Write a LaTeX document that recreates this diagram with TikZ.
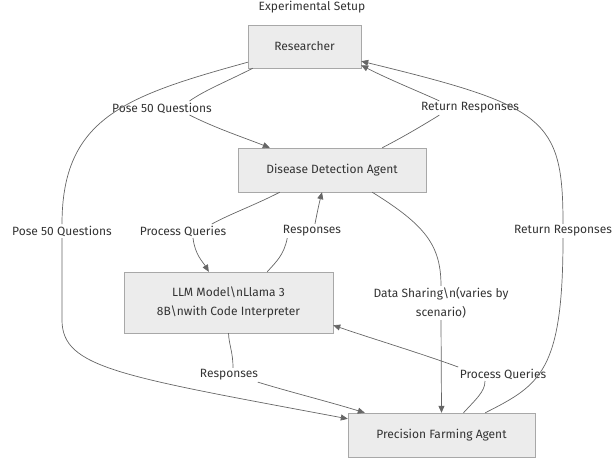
\documentclass[tikz,border=0pt]{standalone}
\usepackage{fontspec}
\setmainfont{Fira Sans}
\usetikzlibrary{arrows.meta}
\definecolor{boxfill}{HTML}{ECECEC}
\definecolor{boxline}{HTML}{A8A8A8}
\definecolor{wire}{HTML}{666666}
\definecolor{ink}{HTML}{333333}
\tikzset{
  box/.style={
    rectangle,
    inner sep=0pt,
    align=center,
    draw=boxline,
    fill=boxfill,
    text=ink,
    font=\fontsize{12}{19}\selectfont
  },
  lbl/.style={
    inner sep=1.5pt,
    align=center,
    text=ink,
    font=\fontsize{12}{19}\selectfont
  },
  link/.style={draw=wire, line width=0.7pt},
  arrow/.style={link, -{Triangle[length=7pt,width=6pt]}}
}
\begin{document}
\begin{tikzpicture}[x=1pt, y=-1pt]
  \useasboundingbox (0,0) rectangle (612,463);
  \node[lbl] (title) at (312,7) {Experimental Setup};
  % boxes
  \node (res) [box, minimum width=113pt, minimum height=43pt] at (304.5,46.5) {Researcher};
  \node (dda) [box, minimum width=188pt, minimum height=44pt] at (332,170) {Disease Detection Agent};
  \node (llm) [box, minimum width=209pt, minimum height=61pt] at (228.5,302.5)
    {LLM Model\textbackslash nLlama 3\\8B\textbackslash nwith Code Interpreter};
  \node (pfa) [box, minimum width=187pt, minimum height=44pt] at (441.5,435) {Precision Farming Agent};
  % edge labels
  \node (l1) [lbl] at (162,108) {Pose 50 Questions};
  \node (l2) [lbl] at (62,231) {Pose 50 Questions};
  \node (l3) [lbl] at (470,108) {Return Responses};
  \node (l4) [lbl] at (563,231) {Return Responses};
  \node (l5) [lbl] at (183,231) {Process Queries};
  \node (l6) [lbl] at (312,231) {Responses};
  \node (l7) [lbl] at (441,303) {Data Sharing\textbackslash n(varies by\\scenario)};
  \node (l8) [lbl] at (229,375) {Responses};
  \node (l9) [lbl] at (503,374) {Process Queries};
  % Researcher -> Disease Detection Agent
  \draw[link] ([xshift=5pt]res.south west) .. controls (228,81) and (205,90) .. ([xshift=-24pt]l1.north east);
  \draw[arrow] ([xshift=-24pt]l1.south east) .. controls (215,128) and (245,138) .. ([xshift=32pt]dda.north west);
  % Researcher -> Precision Farming Agent
  \draw[link] ([yshift=6pt]res.south west) .. controls (125,96) and (62,118) .. (l2.north);
  \draw[arrow] (l2.south) -- (62,320) .. controls (62,368) and (120,376) .. ([yshift=-6pt]pfa.north west);
  % Disease Detection Agent -> Researcher
  \draw[link] ([xshift=-44pt]dda.north east) .. controls (405,136) and (425,124) .. ([xshift=20pt]l3.south west);
  \draw[arrow] ([xshift=20pt]l3.north west) .. controls (420,92) and (390,80) .. ([yshift=3pt]res.south east);
  % Precision Farming Agent -> Researcher
  \draw[link] ([xshift=-50pt]pfa.north east) .. controls (540,385) and (563,372) .. (l4.south);
  \draw[arrow] (l4.north) .. controls (563,118) and (545,106) .. ([yshift=7pt]res.south east);
  % Disease Detection Agent -> LLM Model
  \draw[link] ([xshift=42pt]dda.south west) .. controls (255,205) and (230,214) .. ([xshift=-16pt]l5.north east);
  \draw[arrow] ([xshift=10pt]l5.south) .. controls (195,255) and (203,262) .. ([xshift=85pt]llm.north west);
  % LLM Model -> Disease Detection Agent
  \draw[link] ([xshift=-66pt]llm.north east) .. controls (276,262) and (284,255) .. ([xshift=6pt]l6.south west);
  \draw[arrow] ([xshift=3pt]l6.north) .. controls (318,208) and (320,200) .. ([xshift=-10pt]dda.south);
  % Disease Detection Agent -> Precision Farming Agent
  \draw[link] ([xshift=-54pt]dda.south east) .. controls (425,225) and (441,245) .. (l7.north);
  \draw[arrow] (l7.south) -- (pfa.north);
  % LLM Model -> Precision Farming Agent
  \draw[link] (llm.south) .. controls (229,345) and (233,352) .. ([xshift=4pt]l8.north);
  \draw[arrow] ([xshift=-2pt]l8.south east) .. controls (290,392) and (330,402) .. ([xshift=17pt]pfa.north west);
  % Precision Farming Agent -> LLM Model
  \draw[link] ([xshift=22pt]pfa.north) .. controls (475,400) and (485,392) .. ([xshift=-18pt]l9.south);
  \draw[arrow] (l9.north west) .. controls (420,353) and (370,338) .. ([yshift=8pt]llm.south east);
\end{tikzpicture}
\end{document}
